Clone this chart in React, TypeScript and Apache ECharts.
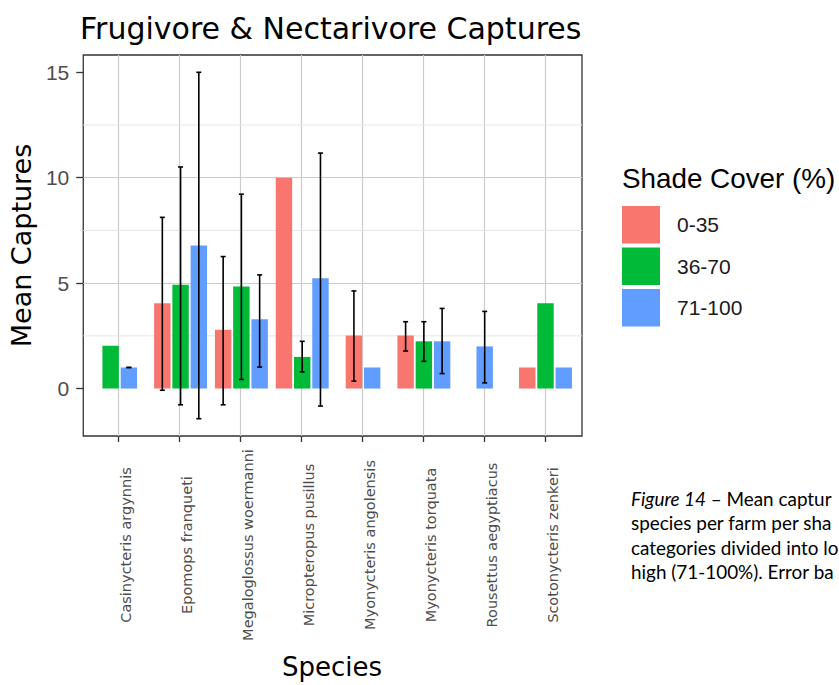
import React, { useEffect, useRef } from "react";
import * as echarts from "echarts";

// ---- data ----
const species = [
  "Casinycteris argynnis",
  "Epomops franqueti",
  "Megaloglossus woermanni",
  "Micropteropus pusillus",
  "Myonycteris angolensis",
  "Myonycteris torquata",
  "Rousettus aegyptiacus",
  "Scotonycteris zenkeri",
];
const shadeGroups = ["0-35", "36-70", "71-100"];

// mean captures per species for each shade cover group (null = no bar)
const meanLow = [null, 4.05, 2.79, 10.0, 2.52, 2.52, null, 1.0];
const meanMid = [2.03, 4.92, 4.84, 1.5, null, 2.24, null, 4.05];
const meanHigh = [1.0, 6.78, 3.29, 5.23, 1.0, 2.24, 2.0, 1.0];

// error bar lower / upper ends (null = no error bar)
const errLowLo = [null, -0.08, -0.77, null, 0.35, 1.78, null, null];
const errLowHi = [null, 8.12, 6.26, null, 4.63, 3.17, null, null];
const errMidLo = [null, -0.77, 0.43, 0.79, null, 1.29, null, null];
const errMidHi = [null, 10.51, 9.22, 2.24, null, 3.17, null, null];
const errHighLo = [1.0, -1.43, 1.02, -0.83, null, 0.71, 0.27, null];
const errHighHi = [1.0, 15.0, 5.39, 11.17, null, 3.8, 3.66, null];

const yTicks = [0, 5, 10, 15];
const yMinorTicks = [2.5, 7.5, 12.5];

const captionLines = [
  "{i|Figure 14} – Mean captur",
  "species per farm per sha",
  "categories divided into lo",
  "high (71-100%). Error ba",
];

// ---- layout / style constants ----
const COLORS = ["#F8766D", "#00BA38", "#619CFF"];
const Y_MIN = -2.25;
const Y_MAX = 15.82;
const X_MIN = 0.4;
const X_MAX = 8.6;
const DODGE = 0.3;
const BAR_W = 0.27;
const PANEL_L = 82;
const PANEL_T = 55;
const PANEL_W = 500;
const PANEL_H = 381;
const UNIT = PANEL_W / (X_MAX - X_MIN);

const means = [meanLow, meanMid, meanHigh];
const errLo = [errLowLo, errMidLo, errHighLo];
const errHi = [errLowHi, errMidHi, errHighHi];

function groupData(g: number) {
  const out: number[][] = [];
  species.forEach((_, i) => {
    const v = means[g][i];
    if (v == null) return;
    const present = means
      .map((m, gi) => (m[i] != null ? gi : -1))
      .filter((x) => x >= 0);
    const k = present.indexOf(g);
    const off = (k - (present.length - 1) / 2) * DODGE;
    const lo = errLo[g][i];
    const hi = errHi[g][i];
    const has = lo != null && hi != null ? 1 : 0;
    out.push([i + 1, v as number, has ? (lo as number) : 0, has ? (hi as number) : 0, off, has]);
  });
  return out;
}

const renderBar = (_params: any, api: any) => {
  const xc = api.value(0) + api.value(4);
  const v = api.value(1);
  const p0 = api.coord([xc - BAR_W / 2, v]);
  const p1 = api.coord([xc + BAR_W / 2, 0]);
  const children: any[] = [
    {
      type: "rect",
      shape: {
        x: p0[0],
        y: Math.min(p0[1], p1[1]),
        width: p1[0] - p0[0],
        height: Math.abs(p1[1] - p0[1]),
      },
      style: { fill: api.visual("color") },
    },
  ];
  if (api.value(5) === 1) {
    const top = api.coord([xc, api.value(3)]);
    const bot = api.coord([xc, api.value(2)]);
    const cap = 2.5;
    const st = { stroke: "#000", lineWidth: 1.6 };
    children.push(
      { type: "line", shape: { x1: top[0], y1: top[1], x2: bot[0], y2: bot[1] }, style: st },
      { type: "line", shape: { x1: top[0] - cap, y1: top[1], x2: top[0] + cap, y2: top[1] }, style: st },
      { type: "line", shape: { x1: bot[0] - cap, y1: bot[1], x2: bot[0] + cap, y2: bot[1] }, style: st }
    );
  }
  return { type: "group", children };
};

const renderMinor = (_params: any, api: any) => {
  const a = api.coord([X_MIN, api.value(1)]);
  const b = api.coord([X_MAX, api.value(1)]);
  return {
    type: "line",
    shape: { x1: a[0], y1: a[1], x2: b[0], y2: b[1] },
    style: { stroke: "#e6e6e6", lineWidth: 1 },
  };
};

const option: any = {
  animation: false,
  backgroundColor: "#ffffff",
  title: [
    {
      text: "Frugivore & Nectarivore Captures",
      left: 80,
      top: 13,
      padding: 0,
      textStyle: { fontFamily: "DejaVu Sans", fontSize: 30, fontWeight: "normal", color: "#000" },
    },
    {
      text: "Shade Cover (%)",
      left: 622,
      top: 164,
      padding: 0,
      textStyle: { fontFamily: "Liberation Sans", fontSize: 27.8, fontWeight: "normal", color: "#000" },
    },
  ],
  legend: {
    orient: "vertical",
    left: 622,
    top: 206,
    padding: 0,
    itemWidth: 38,
    itemHeight: 37.5,
    itemGap: 4,
    icon: "rect",
    selectedMode: false,
    data: shadeGroups,
    textStyle: {
      fontFamily: "Liberation Sans",
      fontSize: 21,
      color: "#1a1a1a",
      padding: [8, 0, 0, 12],
    },
  },
  grid: [
    {
      left: PANEL_L,
      top: PANEL_T,
      width: PANEL_W,
      height: PANEL_H,
      show: true,
      borderColor: "#333333",
      borderWidth: 1.3,
      backgroundColor: "rgba(0,0,0,0)",
    },
    {
      left: PANEL_L + 0.6 * UNIT,
      top: PANEL_T,
      width: 7 * UNIT,
      height: PANEL_H,
    },
  ],
  xAxis: [
    {
      gridIndex: 0,
      type: "value",
      min: X_MIN,
      max: X_MAX,
      show: false,
    },
    {
      gridIndex: 1,
      type: "category",
      position: "bottom",
      data: species,
      boundaryGap: false,
      axisLine: { show: false, onZero: false },
      axisTick: { show: true, length: 6, interval: 0, lineStyle: { color: "#333333", width: 1.3 } },
      splitLine: { show: true, interval: 0, lineStyle: { color: "#cccccc", width: 1.2 } },
      axisLabel: {
        interval: 0,
        rotate: 90,
        align: "center",
        verticalAlign: "top",
        margin: 109,
        fontFamily: "DejaVu Sans",
        fontSize: 14.5,
        color: "#4d4d4d",
      },
      name: "Species",
      nameLocation: "middle",
      nameGap: 218,
      nameTextStyle: { fontFamily: "DejaVu Sans", fontSize: 26, color: "#000" },
    },
  ],
  yAxis: [
    {
      gridIndex: 0,
      type: "value",
      min: Y_MIN,
      max: Y_MAX,
      splitNumber: 4,
      axisLine: { show: false, onZero: false },
      axisTick: {
        show: true,
        length: 7,
        customValues: yTicks,
        lineStyle: { color: "#333333", width: 1.3 },
      },
      axisLabel: {
        customValues: yTicks,
        margin: 14,
        fontFamily: "Liberation Sans",
        fontSize: 21,
        color: "#4d4d4d",
      },
      splitLine: {
        show: true,
        showMinLine: false,
        showMaxLine: false,
        lineStyle: { color: "#cccccc", width: 1.2 },
      },
      name: "Mean Captures",
      nameLocation: "middle",
      nameGap: 46,
      nameTextStyle: { fontFamily: "DejaVu Sans", fontSize: 27, color: "#000" },
    },
    {
      gridIndex: 1,
      type: "value",
      min: Y_MIN,
      max: Y_MAX,
      show: false,
    },
  ],
  series: [
    {
      name: "minor",
      type: "custom",
      xAxisIndex: 0,
      yAxisIndex: 0,
      z: 1,
      silent: true,
      data: yMinorTicks.map((v) => [X_MIN, v]),
      renderItem: renderMinor,
    },
    ...shadeGroups.map((g, gi) => ({
      name: g,
      type: "custom",
      xAxisIndex: 0,
      yAxisIndex: 0,
      z: 3,
      itemStyle: { color: COLORS[gi] },
      data: groupData(gi),
      renderItem: renderBar,
    })),
  ],
  graphic: [
    {
      type: "text",
      left: 631,
      top: 486,
      silent: true,
      style: {
        text: captionLines.join("\n"),
        fontFamily: "Lato",
        fontSize: 18.9,
        lineHeight: 24.5,
        fill: "#000",
        rich: {
          i: { fontFamily: "Lato", fontSize: 18.9, fontStyle: "italic", lineHeight: 24.5 },
        },
      },
    },
  ],
};

export default function App() {
  const ref = useRef<HTMLDivElement>(null);
  useEffect(() => {
    const chart = echarts.init(ref.current as HTMLDivElement, null, { renderer: "svg" });
    chart.setOption(option);
    return () => chart.dispose();
  }, []);
  return (
    <div
      ref={ref}
      style={{ position: "fixed", left: 0, top: 0, width: 839, height: 685, background: "#fff" }}
    />
  );
}
